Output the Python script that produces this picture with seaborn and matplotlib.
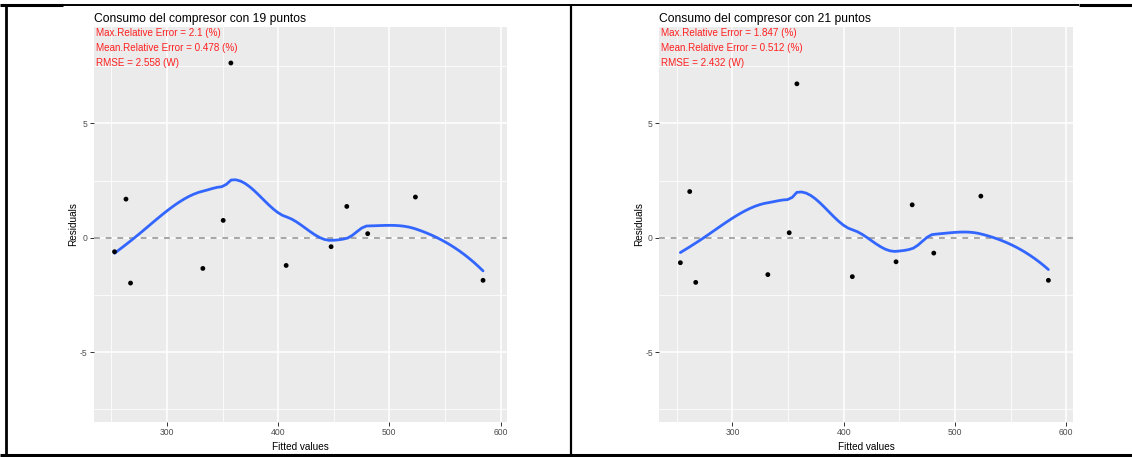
import numpy as np
import pandas as pd
import matplotlib
matplotlib.use("Agg")
import matplotlib.pyplot as plt
from matplotlib.lines import Line2D
import seaborn as sns

# Residuals vs fitted values for the two compressor models
titles = ["Consumo del compresor con 19 puntos", "Consumo del compresor con 21 puntos"]

fitted_19 = [252.9, 263.2, 267.3, 332.3, 350.6, 357.5, 407.2, 447.6, 461.7, 480.5, 523.4, 584.2]
resid_19 = [-0.61, 1.69, -1.98, -1.34, 0.76, 7.64, -1.21, -0.39, 1.37, 0.18, 1.78, -1.86]

fitted_21 = [253.2, 261.6, 267.0, 331.8, 351.0, 357.9, 407.7, 447.0, 461.5, 480.9, 523.2, 583.9]
resid_21 = [-1.09, 2.02, -1.95, -1.61, 0.22, 6.73, -1.70, -1.05, 1.44, -0.67, 1.82, -1.86]

stats_19 = ["Max.Relative Error = 2.1 (%)",
            "Mean.Relative Error = 0.478 (%)",
            "RMSE = 2.558 (W)"]
stats_21 = ["Max.Relative Error = 1.847 (%)",
            "Mean.Relative Error = 0.512 (%)",
            "RMSE = 2.432 (W)"]

x_ticks = [300, 400, 500, 600]
y_ticks = [-5, 0, 5]


def local_fit(x, y, x0, q, degree=2):
    """Tricube-weighted local polynomial at x0: returns value and slope."""
    d = np.abs(x - x0)
    h = np.sort(d)[q - 1]
    w = np.clip(1 - (d / h) ** 3, 0, None) ** 3
    X = np.vander(x - x0, degree + 1, increasing=True)
    sw = np.sqrt(w)
    beta, *_ = np.linalg.lstsq(X * sw[:, None], y * sw, rcond=None)
    return beta[0], beta[1]


def kd_vertices(x, fc):
    """Cell boundaries of a 1-D k-d tree split at the median point."""
    mu = 0.005 * (x[-1] - x[0])
    lo_v, hi_v = x[0] - mu, x[-1] + mu
    verts = {lo_v, hi_v}

    def split(l, u, vlo, vhi):
        if (u - l) + 1 <= fc:
            return
        m = (l + u) // 2
        while m >= 1 and x[m - 1] == x[m]:
            m -= 1
        xi = x[m]
        if xi == vlo or xi == vhi:
            return
        verts.add(xi)
        split(l, m, vlo, xi)
        split(m + 1, u, xi, vhi)

    split(0, len(x) - 1, lo_v, hi_v)
    return np.array(sorted(verts))


def loess_curve(x, y, xs, span=0.75, degree=2, cell=0.2):
    """Loess smooth: vertex fits joined by cubic Hermite interpolation."""
    x = np.asarray(x, float)
    y = np.asarray(y, float)
    order = np.argsort(x)
    x, y = x[order], y[order]
    n = len(x)
    q = int(np.floor(n * span))
    fc = int(np.floor(n * span * cell))
    verts = kd_vertices(x, fc)
    vals = np.array([local_fit(x, y, v, q, degree) for v in verts])
    out = np.empty(len(xs))
    for i, xv in enumerate(xs):
        j = np.clip(np.searchsorted(verts, xv) - 1, 0, len(verts) - 2)
        x0, x1 = verts[j], verts[j + 1]
        hh = x1 - x0
        t = (xv - x0) / hh
        f0, s0 = vals[j]
        f1, s1 = vals[j + 1]
        h00 = 2 * t ** 3 - 3 * t ** 2 + 1
        h10 = t ** 3 - 2 * t ** 2 + t
        h01 = -2 * t ** 3 + 3 * t ** 2
        h11 = t ** 3 - t ** 2
        out[i] = h00 * f0 + h10 * hh * s0 + h01 * f1 + h11 * hh * s1
    return out


sns.set_theme(style="darkgrid", rc={
    "axes.facecolor": "#EBEBEB",
    "grid.color": "white",
    "axes.edgecolor": "#EBEBEB",
})
plt.rcParams["font.family"] = ["Liberation Sans", "DejaVu Sans"]

W_PX, H_PX = 1132, 457
fig = plt.figure(figsize=(W_PX / 100, H_PX / 100), dpi=100)
fig.patch.set_facecolor("white")


def px_axes(left, top, right, bottom):
    return fig.add_axes([left / W_PX, 1 - bottom / H_PX,
                         (right - left) / W_PX, (bottom - top) / H_PX])


panels = [
    (px_axes(93.5, 27.3, 507.3, 421.7), fitted_19, resid_19, titles[0], stats_19),
    (px_axes(659.0, 27.3, 1073.0, 421.7), fitted_21, resid_21, titles[1], stats_21),
]

for ax, fx, ry, title, stats in panels:
    df = pd.DataFrame({"Fitted values": fx, "Residuals": ry})
    ax.set_xlim(234, 606)
    ax.set_ylim(-8.04, 9.2)

    # minor grid
    ax.set_xticks([250, 350, 450, 550], minor=True)
    ax.set_yticks([-7.5, -2.5, 2.5, 7.5], minor=True)
    ax.grid(which="minor", color="white", linewidth=0.55)
    ax.grid(which="major", color="white", linewidth=1.1)
    ax.set_axisbelow(True)

    ax.axhline(0, color="#A6A6A6", linewidth=1.4, linestyle=(0, (3, 3)), zorder=2)

    xs = np.linspace(min(fx), max(fx), 80)
    smooth = pd.DataFrame({"x": xs, "y": loess_curve(fx, ry, xs)})
    sns.lineplot(data=smooth, x="x", y="y", ax=ax, color="#3366FF",
                 linewidth=2.0, zorder=3)
    sns.scatterplot(data=df, x="Fitted values", y="Residuals", ax=ax,
                    color="black", s=12, edgecolor="none", zorder=4)

    ax.set_xticks(x_ticks)
    ax.set_yticks(y_ticks)
    ax.set_xticklabels([str(t) for t in x_ticks])
    ax.set_yticklabels([str(t) for t in y_ticks])
    ax.tick_params(axis="both", which="major", labelsize=6.2, labelcolor="#4D4D4D",
                   length=3, width=0.7, color="#333333", pad=1.5,
                   bottom=True, left=True)
    ax.tick_params(which="minor", length=0)
    for s in ax.spines.values():
        s.set_visible(False)

    ax.set_xlabel("Fitted values", fontsize=7.2, color="black", labelpad=3.5)
    ax.set_ylabel("Residuals", fontsize=7.2, color="black", labelpad=1)
    ax.set_title(title, fontsize=8.7, loc="left", color="black", pad=4)

    for k, line in enumerate(stats):
        ax.annotate(line, xy=(0, 1), xycoords="axes fraction",
                    xytext=(2.2, -6.0 - 15 * k), textcoords="offset pixels",
                    ha="left", va="center", fontsize=7.1, color="#FF2020")


def hline(y, x0, x1, lw=1.6):
    fig.add_artist(Line2D([x0 / W_PX, x1 / W_PX], [1 - y / H_PX] * 2,
                          transform=fig.transFigure, color="black",
                          linewidth=lw, solid_capstyle="butt"))


def vline(x, y0, y1, lw=1.6):
    fig.add_artist(Line2D([x / W_PX] * 2, [1 - y0 / H_PX, 1 - y1 / H_PX],
                          transform=fig.transFigure, color="black",
                          linewidth=lw, solid_capstyle="butt"))


# table-like frame around the two panels
hline(5, 0, 63, lw=2.2)
hline(5, 63, 1079, lw=1.4)
hline(5, 1079, 1132, lw=2.2)
hline(454.5, 0, 1132, lw=2.2)
vline(5.5, 4, 455.5, lw=2.0)
vline(570.7, 5, 454, lw=1.6)

fig.savefig("out.png", dpi=100, facecolor="white")
